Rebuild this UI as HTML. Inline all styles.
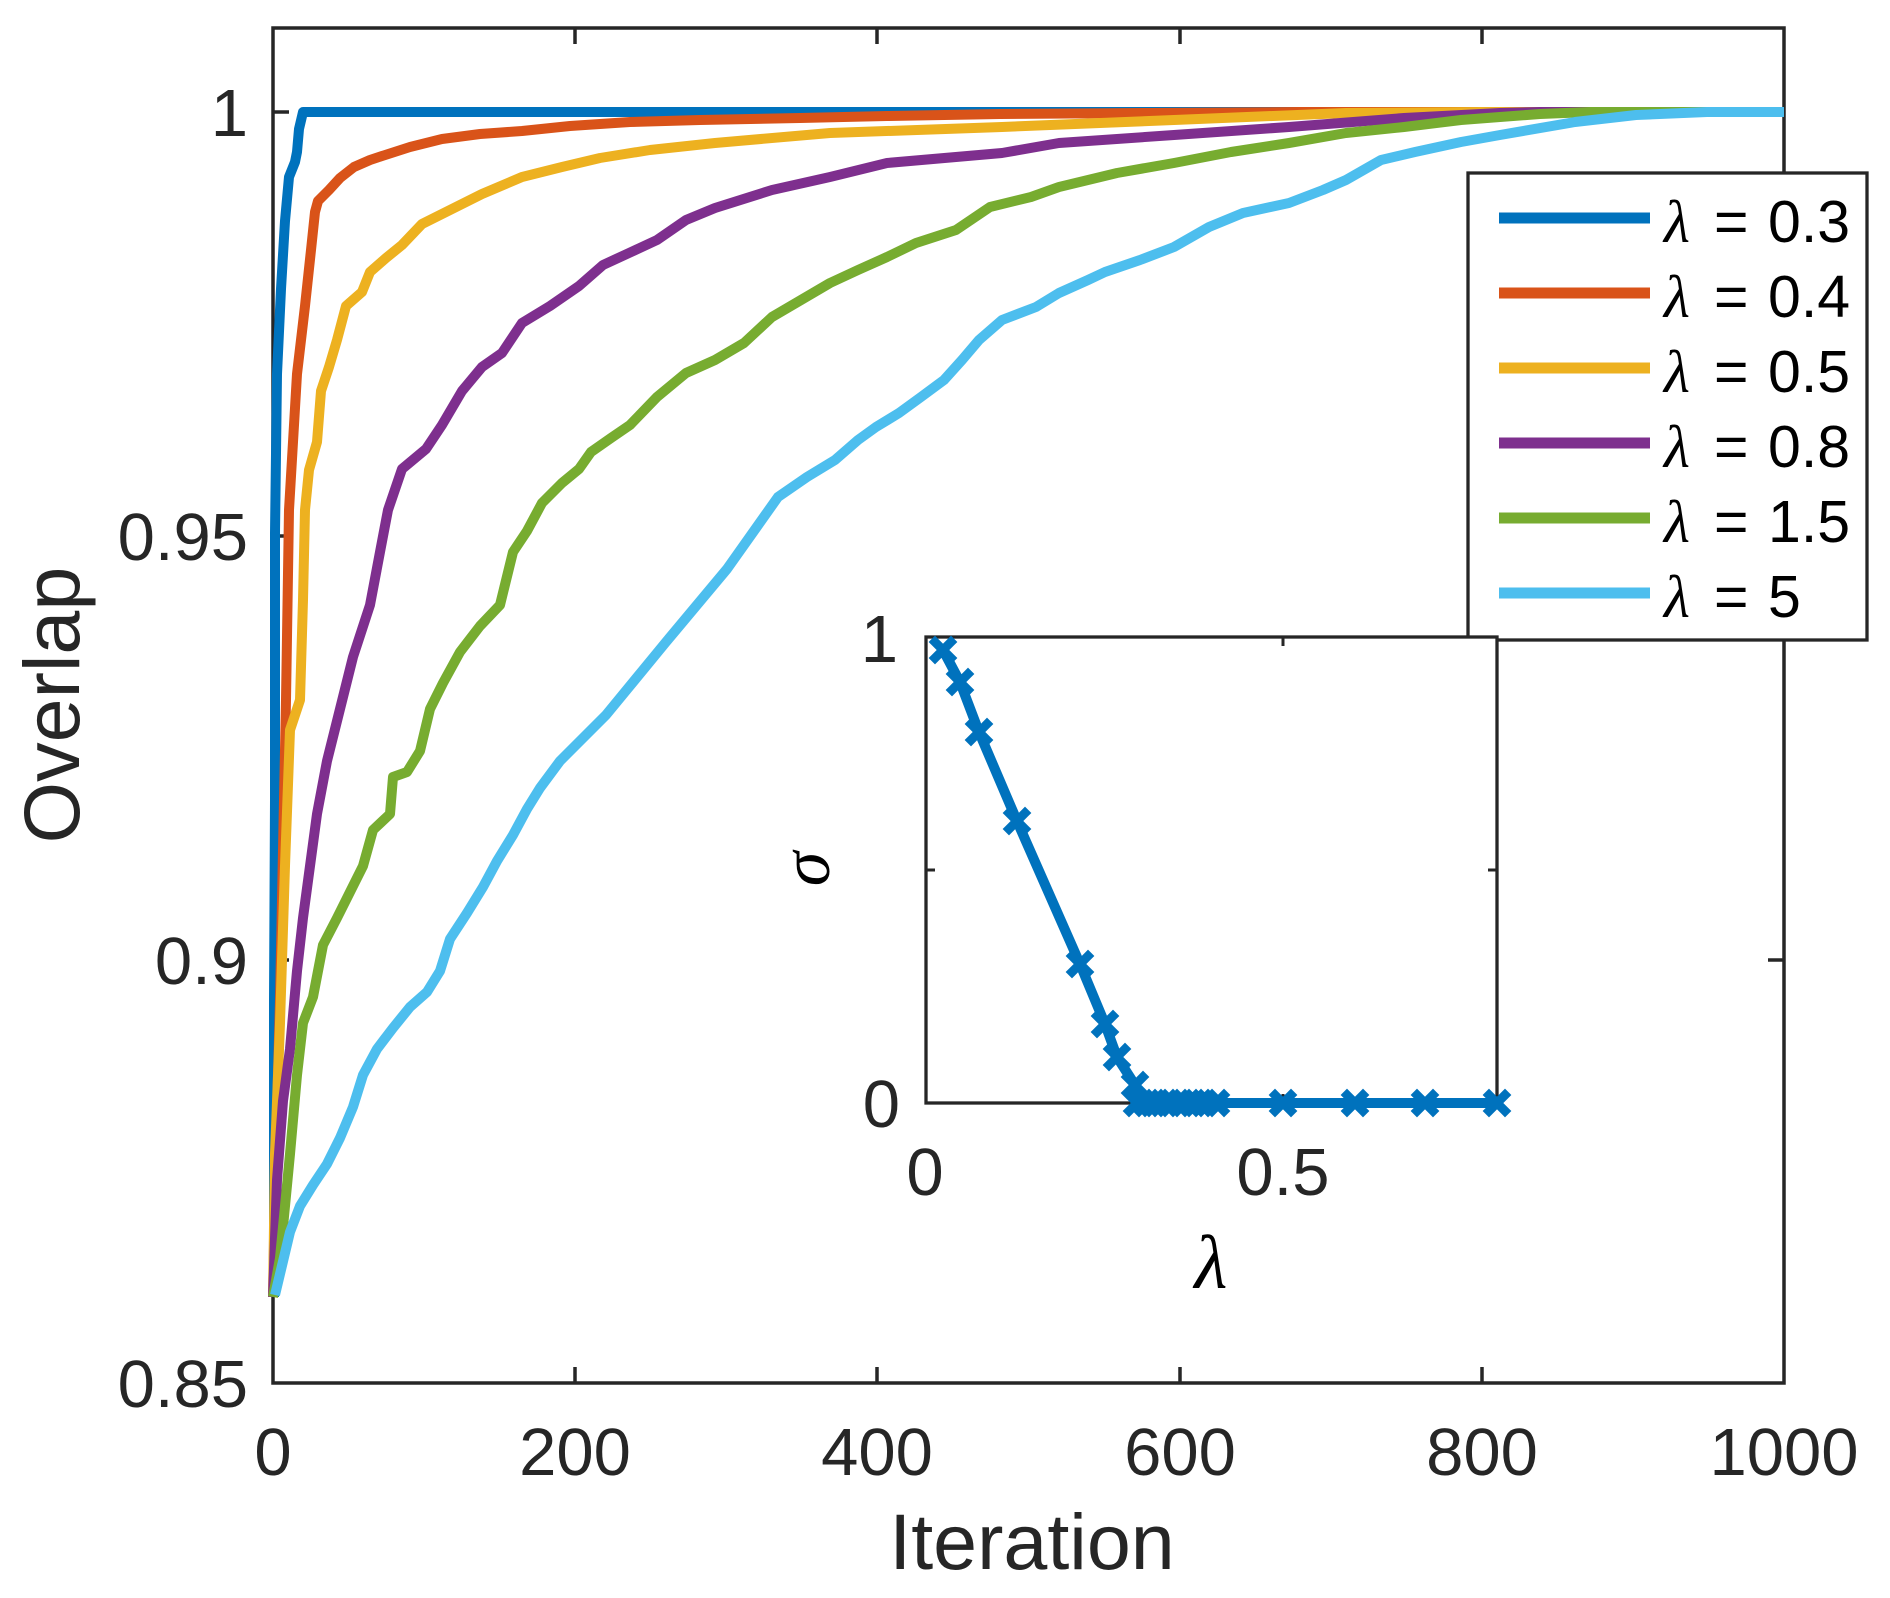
<!DOCTYPE html>
<html><head><meta charset="utf-8"><style>
html,body{margin:0;padding:0;background:#fff;}
svg{display:block;}
.t{font-family:"Liberation Sans",Arial,sans-serif;fill:#262626;}
.g{font-family:"Liberation Serif","Times New Roman",serif;font-style:italic;fill:#000;}
</style></head><body>
<svg width="1890" height="1598" viewBox="0 0 1890 1598" xmlns="http://www.w3.org/2000/svg">
<rect width="1890" height="1598" fill="#fff"/>
<g stroke="#262626" stroke-width="3.5" fill="none">
<rect x="273" y="28" width="1511" height="1355"/>
<path d="M575 1383v-16M877 1383v-16M1180 1383v-16M1482 1383v-16M575 28v16M877 28v16M1180 28v16M1482 28v16M273 960h16M273 536h16M273 112h16M1784 960h-16M1784 536h-16M1784 112h-16"/>
</g>
<g class="t" font-size="67" text-anchor="end">
<text x="248" y="1407">0.85</text>
<text x="248" y="984">0.9</text>
<text x="248" y="560">0.95</text>
<text x="248" y="136">1</text>
</g>
<g class="t" font-size="67" text-anchor="middle">
<text x="273" y="1475">0</text>
<text x="575" y="1475">200</text>
<text x="877" y="1475">400</text>
<text x="1180" y="1475">600</text>
<text x="1482" y="1475">800</text>
<text x="1784" y="1475">1000</text>
</g>
<text class="t" font-size="79" text-anchor="middle" x="1032" y="1569">Iteration</text>
<text class="t" font-size="79" text-anchor="middle" transform="translate(79,705) rotate(-90)">Overlap</text>
<g fill="none" stroke-width="10" stroke-linejoin="round" stroke-linecap="butt">
<polyline stroke="#0072BD" points="274,1297 274,1000 275,800 275,533 277,374 281,289 285,221 289,177 295,162 297,152 299,129 303,112 1784,112"/>
<polyline stroke="#D95319" points="273,1297 276,1150 280,1000 283,850 286,700 289,510 293,442 297,374 305,306 311,250 315,212 318,201 329,190 340,178 354,167 370,160 382,156 410,147 442,139 480,134 522,131 570,126 630,122 700,120 800,118 887,116 1000,114 1150,113 1300,112 1784,112"/>
<polyline stroke="#EDB120" points="273,1297 275,1154 280,1023 285,866 290,730 300,700 303,600 305,510 309,470 317,442 321,391 329,367 337,340 346,306 362,292 370,272 386,258 402,245 422,224 442,214 482,194 522,177 562,167 600,158 650,150 715,143 830,133 1002,127 1174,120 1346,113 1480,112 1784,112"/>
<polyline stroke="#7E2F8E" points="273,1297 277,1180 283,1101 290,1049 297,971 303,918 310,866 317,814 327,761 340,709 353,657 370,605 380,552 388,510 402,469 426,449 442,425 462,391 482,367 502,353 522,323 550,306 579,286 603,265 629,253 657,240 686,220 715,208 772,190 830,177 887,163 1002,153 1059,143 1174,135 1289,127 1404,118 1500,113 1540,112 1784,112"/>
<polyline stroke="#77AC30" points="273,1297 280,1258 290,1154 297,1075 303,1023 313,997 323,945 337,918 350,892 363,866 373,830 390,814 393,777 407,772 420,751 430,709 443,683 460,652 480,626 500,605 513,552 527,531 542,503 562,483 579,469 591,452 611,438 630,425 657,397 686,373 715,360 744,343 772,317 801,300 830,283 858,270 887,257 916,243 956,230 990,207 1031,197 1059,187 1117,173 1174,163 1231,152 1289,143 1346,133 1404,127 1461,120 1500,117 1540,114 1590,112 1784,112"/>
<polyline stroke="#4DBEEE" points="275,1295 280,1274 290,1232 300,1206 313,1185 327,1164 340,1138 353,1107 363,1075 377,1049 393,1028 410,1007 427,992 440,971 450,939 467,913 483,887 497,861 513,835 527,809 540,788 560,761 569,752 606,715 666,642 727,569 778,497 807,477 835,460 858,440 876,427 899,413 921,397 944,380 962,360 979,340 1002,320 1036,307 1059,293 1088,280 1105,272 1140,260 1174,247 1209,227 1243,213 1289,203 1323,190 1346,180 1381,160 1415,152 1461,142 1500,135 1575,122 1636,115 1707,112 1784,112"/>
</g>
<rect x="1468" y="173" width="399" height="467" fill="#fff" stroke="#262626" stroke-width="3.3"/>
<g stroke-width="11">
<line x1="1499" y1="218" x2="1650" y2="218" stroke="#0072BD"/>
<line x1="1499" y1="293" x2="1650" y2="293" stroke="#D95319"/>
<line x1="1499" y1="368" x2="1650" y2="368" stroke="#EDB120"/>
<line x1="1499" y1="443" x2="1650" y2="443" stroke="#7E2F8E"/>
<line x1="1499" y1="518" x2="1650" y2="518" stroke="#77AC30"/>
<line x1="1499" y1="593" x2="1650" y2="593" stroke="#4DBEEE"/>
</g>
<g font-size="60">
<text class="g" x="1664" y="242">λ</text><text class="g" x="1664" y="317">λ</text><text class="g" x="1664" y="392">λ</text><text class="g" x="1664" y="467">λ</text><text class="g" x="1664" y="542">λ</text><text class="g" x="1664" y="617">λ</text>
</g>
<g class="t" font-size="59" style="fill:#000">
<text x="1714" y="242">=</text><text x="1768" y="242">0.3</text>
<text x="1714" y="317">=</text><text x="1768" y="317">0.4</text>
<text x="1714" y="392">=</text><text x="1768" y="392">0.5</text>
<text x="1714" y="467">=</text><text x="1768" y="467">0.8</text>
<text x="1714" y="542">=</text><text x="1768" y="542">1.5</text>
<text x="1714" y="617">=</text><text x="1768" y="617">5</text>
</g>
<rect x="926" y="637" width="571" height="466" fill="#fff" stroke="#262626" stroke-width="3.3"/>
<path d="M926 870h9M1497 870h-9M1283 637v9M1283 1103v-9" stroke="#262626" stroke-width="3" fill="none"/>
<g class="t" font-size="67">
<text x="898" y="662" text-anchor="end">1</text>
<text x="900" y="1127" text-anchor="end">0</text>
<text x="925" y="1195" text-anchor="middle">0</text>
<text x="1283" y="1195" text-anchor="middle">0.5</text>
</g>
<text class="g" font-size="76" text-anchor="middle" x="1211" y="1288">λ</text>
<text class="g" font-size="70" text-anchor="middle" transform="translate(829,869) rotate(-90)">σ</text>
<polyline fill="none" stroke="#0072BD" stroke-width="10" stroke-linejoin="round" points="943,650 960,682 979,732 1017,821 1080,964 1105,1024 1117,1057 1135,1085 1137,1103 1497,1103"/>
<g stroke="#0072BD" stroke-width="9" stroke-linecap="square" fill="none">
<path d="M935 642l16 16M935 658l16-16
M952 674l16 16M952 690l16-16
M971 724l16 16M971 740l16-16
M1009 813l16 16M1009 829l16-16
M1072 956l16 16M1072 972l16-16
M1097 1016l16 16M1097 1032l16-16
M1109 1049l16 16M1109 1065l16-16
M1127 1077l16 16M1127 1093l16-16
M1129 1095l16 16M1129 1111l16-16
M1139 1095l16 16M1139 1111l16-16
M1149 1095l16 16M1149 1111l16-16
M1161 1095l16 16M1161 1111l16-16
M1173 1095l16 16M1173 1111l16-16
M1185 1095l16 16M1185 1111l16-16
M1196 1095l16 16M1196 1111l16-16
M1208 1095l16 16M1208 1111l16-16
M1275 1095l16 16M1275 1111l16-16
M1347 1095l16 16M1347 1111l16-16
M1417 1095l16 16M1417 1111l16-16
M1489 1095l16 16M1489 1111l16-16"/>
</g>
</svg>
</body></html>
